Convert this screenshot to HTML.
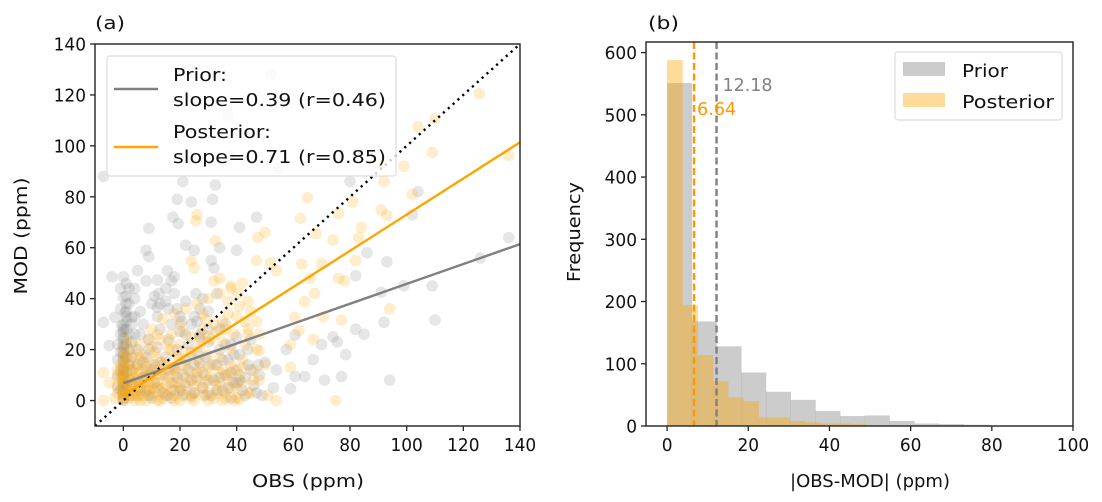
<!DOCTYPE html>
<html><head><meta charset="utf-8">
<style>
body{margin:0;background:#fff;}
svg{display:block;font-family:"DejaVu Sans","Liberation Sans",sans-serif;}
</style></head>
<body>
<svg id="fig" width="1102" height="502" viewBox="0 0 1102 502" xmlns="http://www.w3.org/2000/svg">
<rect width="1102" height="502" fill="#fff"/>
<g id="pa"></g>
<g id="pb"></g>
</svg>
<script>
// ---- Panel (a) data ----
const priorPts = [-7,88,21,86,32.5,84.6,19,79,24,78,31.5,79,17.5,72,19.4,69.5,31,70,41,68,9,67.6,47,72,52,128,37,112,37.5,96,55,91,80,86,104,82,102,73,136,64,126,56,93,54.5,86,58,82,49,109,45,99,45,91,42.5,92,30.7,110,31.6,85,26,82,28,74,25,78.5,18,75.5,23,70,22,67,16,71,8,77,9.4,94,8,60.6,9.4,64,9.4,54,12,57.5,20,60.6,25.7,59,4.6,53,5,50,15,47.6,14,40,7,22,61,25,59,34,60,40,59,31,55,32,52,8,59,9,56.5,-4,48.6,0,48.6,1,46,5,51,8,47,12,47.3,15.6,51,18,48.6,17,47,18,42,15,39,12.5,42,12,36.6,22,39,25.6,42,26,31,20.6,31,27,25,0,40.5,0.6,34.6,-0.6,29.4,-7,30.7,-5,21.6,-3,32.7,2,38,4,26,3,32.7,
0,0,0,3,0,6,0,9,0,12,0,15,0,18,0,21,0,24,0,27,0,30,1,33,-2,5,-2,10,-2,16,-2,22,2,2,2,8,2,14,2,20,2,26,3,30,-1,36,1,38,3,23,
5,2,5,8,5,14,5,20,6,26,8,4,8,11,8,17,9,24,10,1,11,7,11,14,12,21,13,28,14,3,14,10,15,17,16,24,17,1,17,7,18,13,19,20,20,27,20,4,21,10,22,16,23,22,24,2,24,8,25,14,26,19,27,26,28,5,28,11,29,17,30,23,31,2,32,8,33,14,34,20,35,4,36,10,37,16,38,1,39,7,40,12,42,4,43,9,44,14,46,6,12,33,16,36,20,33,24,30,30,35,34,28,38,22,41,18,7,30,10,38,15,44,28,40,33,42,36,30,
0,1,0,4,0,7,0,10,0,13,0,16,0,19,0,22,0,25,0,28,1,31,1,35,1,41,-1,44,-1,26,-1,19,-1,12,-1,4,1,6,1,11,1,17,1,22,1,28,3,12,3,6,3,17,4,33,4,40,
6,4,7,9,7,15,9,2,9,20,10,12,12,5,13,15,15,2,16,12,18,4,19,9,21,2,22,6,23,12,25,3,26,9,27,15,29,2,30,8,31,14,33,4,34,9,35,16,37,5,38,11,39,18,41,8,43,2,44,20,45,12,47,3,36,22,30,28,25,33,22,26,17,30,13,38,6,35,4,44,2,44,11,41,19,36,27,36,40,25,45,24,48,10,49,2];
const postPts = [125.6,120.5,104,107.5,110,110.7,109,97.4,136,96.3,99,92,91,93,92,86,102,81,81,78,76,73.5,91,74.8,93,72.8,84,68,83,64,74,63,68,65.6,65,79.7,62.5,71.5,50,66,47.5,64,32.5,62.7,26,73,25.6,70.6,47,55,54,51,52,54,63,53.6,66,48,70,53.8,76,48,78,47,82,55,94,36,70.6,33,77,31.6,67.5,42,64,38.8,60.6,32.7,62,27.5,59,22,67,24,51,2,54,0,75,0,59,13,-7,0,-7,11,-5,7,24,55,25,52,32,47,34,48,38,45,40.6,42,44,39,37,39,47,31,44,26,48,19.6,42,13,41,0.6,39,0,
0,0,0,2,0,5,0,8,0,11,0,14,0,17,0,20,-2,3,-2,9,-1,14,1,24,2,1,2,6,2,12,3,18,-3,1,
4,0,4,4,4,9,5,14,6,2,6,7,7,12,7,18,8,0,8,5,9,10,9,15,10,21,10,2,11,7,12,12,12,17,13,24,13,0,14,5,15,10,15,15,16,20,16,2,17,26,18,7,18,12,19,17,20,22,20,0,21,4,22,9,22,14,23,19,24,25,24,1,25,6,26,11,26,16,27,21,28,28,28,2,29,7,30,13,30,18,31,24,32,30,32,1,33,6,34,11,34,17,35,23,36,28,36,3,37,8,38,14,38,20,39,26,40,33,40,5,41,10,42,16,43,22,44,28,45,35,46,12,47,20,48,26,10,28,14,32,18,34,22,36,26,38,30,40,34,42,38,44,42,46,28,34,20,30,12,26,6,22,45,3,48,8,50,14,30,0,35,0,25,0,18,0,12,0,6,0,
0,1,0,3,0,6,0,9,0,12,1,15,1,18,1,3,1,8,2,4,2,9,2,15,3,2,3,7,3,11,4,2,4,6,4,13,5,4,5,9,6,5,6,11,6,16,7,2,7,7,8,9,8,13,9,4,9,7,10,5,10,10,11,3,11,13,12,7,13,4,13,10,14,1,14,14,15,6,16,9,17,4,17,13,18,2,19,7,19,11,20,5,21,14,22,2,23,7,24,11,25,3,26,8,27,13,28,5,29,10,30,3,31,9,32,14,33,3,34,7,35,12,36,1,37,10,38,5,39,12,40,1,42,7,44,3,46,8,16,23,20,17,24,19,27,24,30,25,33,27,35,31,37,34,41,37,43,31,29,32,21,27,17,20,11,19,9,24,5,18,3,22,-2,6,-2,12,-1,9];
const fitSlopes = [0.39, 0.71];
const fitIntercepts = [6.8, 2.0];
const aTicks = [0,20,40,60,80,100,120,140];
const aYTicks = [0,20,40,60,80,100,120,140];
// ---- Panel (b) data ----
const priorBinWidth = 6.09;
const priorCounts = [551,168,128,86,55,42,24,16,17,8,4,3,2];
const postBinWidth = 3.76;
const postCounts = [588,194,114,72,46,40,14,14,8,6,4,4,3];
const medians = [12.18, 6.64];
const bXTicks = [0,20,40,60,80,100];
const bYTicks = [0,100,200,300,400,500,600];

const NS="http://www.w3.org/2000/svg";
function mk(parent,tag,attrs,text){const e=document.createElementNS(NS,tag);for(const k in attrs)e.setAttribute(k,attrs[k]);if(text!==undefined)e.textContent=text;parent.appendChild(e);return e;}
const FS=18;
function tw(s){return s.length*FS*0.6;}

const ax={l:95,r:520,t:44,b:426,x0:-10,x1:140,y0:-10,y1:140};
const X=v=>ax.l+(v-ax.x0)/(ax.x1-ax.x0)*(ax.r-ax.l);
const Y=v=>ax.b-(v-ax.y0)/(ax.y1-ax.y0)*(ax.b-ax.t);
const pa=document.getElementById('pa');
const defs=mk(pa,'defs',{});
const cp=mk(defs,'clipPath',{id:'cpa'});mk(cp,'rect',{x:ax.l,y:ax.t,width:ax.r-ax.l,height:ax.b-ax.t});
const pg=mk(pa,'g',{'clip-path':'url(#cpa)'});

for(let i=0;i<priorPts.length;i+=2){const c=mk(pg,'circle',{cx:X(priorPts[i]),cy:Y(priorPts[i+1]),r:5.8,fill:'#808080','fill-opacity':0.2});

}
const og=mk(pa,'g',{'clip-path':'url(#cpa)'});

for(let i=0;i<postPts.length;i+=2){const c=mk(og,'circle',{cx:X(postPts[i]),cy:Y(postPts[i+1]),r:5.8,fill:'#FFA500','fill-opacity':0.2});

}
const lg=mk(pa,'g',{'clip-path':'url(#cpa)'});
const one=mk(lg,'line',{x1:X(-10),y1:Y(-10),x2:X(140),y2:Y(140),stroke:'#000','stroke-width':2.4,'stroke-dasharray':'2.2,4.3'});

const fitCols=['#808080','#FFA500'];const fitNames=['prior-fit-line','posterior-fit-line'];
for(let k=0;k<2;k++){const l=mk(lg,'line',{x1:X(0),y1:Y(fitIntercepts[k]),x2:X(140),y2:Y(fitIntercepts[k]+fitSlopes[k]*140),stroke:fitCols[k],'stroke-width':2.4});

}
mk(pa,'rect',{x:ax.l,y:ax.t,width:ax.r-ax.l,height:ax.b-ax.t,fill:'none',stroke:'#222','stroke-width':1.4});
for(const t of aTicks){mk(pa,'line',{x1:X(t),x2:X(t),y1:ax.b,y2:ax.b+5,stroke:'#222','stroke-width':1.3});
const s=String(t);
const tx=mk(pa,'text',{x:X(t),y:ax.b+25,'text-anchor':'middle','font-size':FS,fill:'#111',textLength:tw(s),lengthAdjust:'spacingAndGlyphs'},s);
}
for(const t of aYTicks){mk(pa,'line',{x1:ax.l-5,x2:ax.l,y1:Y(t),y2:Y(t),stroke:'#222','stroke-width':1.3});
const s=String(t);
const tx=mk(pa,'text',{x:ax.l-9,y:Y(t)+6.5,'text-anchor':'end','font-size':FS,fill:'#111',textLength:tw(s),lengthAdjust:'spacingAndGlyphs'},s);
}
// Panel b
const bx={l:646,r:1073,t:42,b:426,x0:-5.2,x1:100,y0:0,y1:617};
const BX=v=>bx.l+(v-bx.x0)/(bx.x1-bx.x0)*(bx.r-bx.l);
const BY=v=>bx.b-(v-bx.y0)/(bx.y1-bx.y0)*(bx.b-bx.t);
const pb=document.getElementById('pb');
priorCounts.forEach((c,i)=>{const r=mk(pb,'rect',{x:BX(i*priorBinWidth),y:BY(c),width:BX((i+1)*priorBinWidth)-BX(i*priorBinWidth)+0.3,height:BY(0)-BY(c),fill:'#808080','fill-opacity':0.4});

});
postCounts.forEach((c,i)=>{const r=mk(pb,'rect',{x:BX(i*postBinWidth),y:BY(c),width:BX((i+1)*postBinWidth)-BX(i*postBinWidth)+0.3,height:BY(0)-BY(c),fill:'#FFA500','fill-opacity':0.4});

});
const mcol=['#808080','#FF9800'];const mnames=['prior-median-line','posterior-median-line'];
medians.forEach((m,k)=>{const l=mk(pb,'line',{x1:BX(m),x2:BX(m),y1:bx.t,y2:bx.b,stroke:mcol[k],'stroke-width':2.4,'stroke-dasharray':'7,3.5'});

});
const s1=medians[0].toFixed(2),s2=medians[1].toFixed(2);
const ml1=mk(pb,'text',{x:BX(medians[0])+6,y:91,'font-size':FS,fill:'#808080',textLength:tw(s1)-4,lengthAdjust:'spacingAndGlyphs'},s1);

const ml2=mk(pb,'text',{x:BX(medians[1])+3,y:115,'font-size':FS,fill:'#FF9800',textLength:tw(s2)-4,lengthAdjust:'spacingAndGlyphs'},s2);

mk(pb,'rect',{x:bx.l,y:bx.t,width:bx.r-bx.l,height:bx.b-bx.t,fill:'none',stroke:'#222','stroke-width':1.4});
for(const t of bXTicks){mk(pb,'line',{x1:BX(t),x2:BX(t),y1:bx.b,y2:bx.b+5,stroke:'#222','stroke-width':1.3});
const s=String(t);
const tx=mk(pb,'text',{x:BX(t),y:bx.b+25,'text-anchor':'middle','font-size':FS,fill:'#111',textLength:tw(s),lengthAdjust:'spacingAndGlyphs'},s);
}
for(const t of bYTicks){mk(pb,'line',{x1:bx.l-5,x2:bx.l,y1:BY(t),y2:BY(t),stroke:'#222','stroke-width':1.3});
const s=String(t);
const tx=mk(pb,'text',{x:bx.l-9,y:BY(t)+6.5,'text-anchor':'end','font-size':FS,fill:'#111',textLength:tw(s),lengthAdjust:'spacingAndGlyphs'},s);
}
</script>
<svg width="1102" height="502" style="position:absolute;left:0;top:0" xmlns="http://www.w3.org/2000/svg" font-family="DejaVu Sans, Liberation Sans, sans-serif">
<text x="95" y="29" font-size="18" fill="#111" textLength="30" lengthAdjust="spacingAndGlyphs">(a)</text>
<text x="648" y="29" font-size="18" fill="#111" textLength="31" lengthAdjust="spacingAndGlyphs">(b)</text>
<text x="308" y="487" font-size="18" text-anchor="middle" fill="#111" textLength="112" lengthAdjust="spacingAndGlyphs">OBS (ppm)</text>
<text x="870" y="487" font-size="18" text-anchor="middle" fill="#111" textLength="160" lengthAdjust="spacingAndGlyphs">|OBS-MOD| (ppm)</text>
<text transform="translate(27,236) rotate(-90)" font-size="18" text-anchor="middle" fill="#111" textLength="117" lengthAdjust="spacingAndGlyphs">MOD (ppm)</text>
<text transform="translate(580,232) rotate(-90)" font-size="18" text-anchor="middle" fill="#111" textLength="100" lengthAdjust="spacingAndGlyphs">Frequency</text>
<g>
<rect x="107" y="56" width="289" height="120" rx="3" fill="#fff" fill-opacity="0.8" stroke="#ddd" stroke-width="1.2"/>
<line x1="114" y1="89" x2="158" y2="89" stroke="#808080" stroke-width="2.4"/>
<line x1="114" y1="147" x2="158" y2="147" stroke="#FFA500" stroke-width="2.4"/>
<text x="173" y="81" font-size="18" fill="#111" textLength="54" lengthAdjust="spacingAndGlyphs">Prior:</text>
<text x="173" y="106" font-size="18" fill="#111" textLength="213" lengthAdjust="spacingAndGlyphs">slope=0.39 (r=0.46)</text>
<text x="173" y="138" font-size="18" fill="#111" textLength="98" lengthAdjust="spacingAndGlyphs">Posterior:</text>
<text x="173" y="163" font-size="18" fill="#111" textLength="213" lengthAdjust="spacingAndGlyphs">slope=0.71 (r=0.85)</text>
</g>
<g>
<rect x="895" y="52" width="167" height="68" rx="3" fill="#fff" fill-opacity="0.8" stroke="#ddd" stroke-width="1.2"/>
<rect x="903" y="62" width="42" height="14" fill="#808080" fill-opacity="0.4"/>
<rect x="903" y="93" width="42" height="14" fill="#FFA500" fill-opacity="0.4"/>
<text x="962" y="77" font-size="18" fill="#111" textLength="46" lengthAdjust="spacingAndGlyphs">Prior</text>
<text x="962" y="108" font-size="18" fill="#111" textLength="92" lengthAdjust="spacingAndGlyphs">Posterior</text>
</g>
</svg>
</body></html>
